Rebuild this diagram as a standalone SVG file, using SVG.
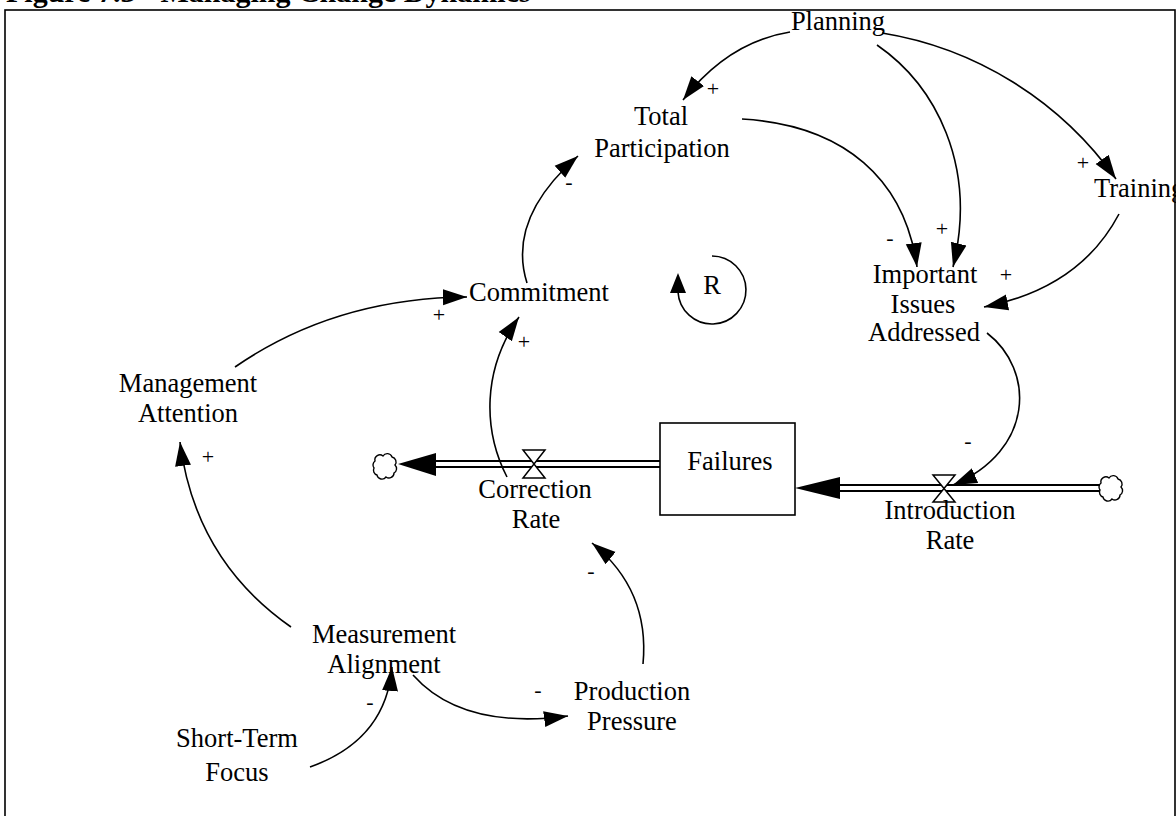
<svg xmlns="http://www.w3.org/2000/svg" width="1176" height="816" viewBox="0 0 1176 816">
  <style>
    .lbl { font-family: "Liberation Serif", "Times New Roman", serif; font-size: 26.5px; fill: #000; text-anchor: middle; }
    .pol { font-family: "Liberation Serif", "Times New Roman", serif; font-size: 22px; fill: #000; text-anchor: middle; }
    .title { font-family: "Liberation Serif", "Times New Roman", serif; font-size: 30px; font-weight: bold; fill: #000; }
    .link { fill: none; stroke: #000; stroke-width: 1.6; marker-end: url(#arrow); }
    .pipe { fill: none; stroke: #000; stroke-width: 1.8; }
    .valve { fill: #fff; stroke: #000; stroke-width: 1.5; stroke-linejoin: miter; }
    .cloud { fill: #fff; stroke: #000; stroke-width: 1.4; }
    .head { fill: #000; }
  </style>
  <defs>
    <marker id="arrow" markerUnits="userSpaceOnUse" markerWidth="26" markerHeight="18" viewBox="0 0 26 18" refX="24" refY="9" orient="auto">
      <path d="M0,1 L24,9 L0,17 Z" fill="#000"/>
    </marker>
  </defs>

  <rect width="1176" height="816" fill="#fff"/>

  <!-- heading, cut by the top edge -->
  <text class="title" x="6" y="2">Figure 7.3 - Managing Change Dynamics</text>

  <!-- frame -->
  <rect x="5" y="10" width="1170" height="830" fill="none" stroke="#000" stroke-width="1.6"/>

  <!-- causal links -->
  <g id="connectors">
    <path class="link" d="M790,32 Q728,42 683,100"/>
    <path class="link" d="M877,45 C935,85 978,165 953,267"/>
    <path class="link" d="M882,33 C975,48 1060,100 1116,179"/>
    <path class="link" d="M742,119 C845,125 905,180 917,267"/>
    <path class="link" d="M1119,214 Q1080,288 984,307"/>
    <path class="link" d="M987,333 C1035,370 1035,450 953,485"/>
    <path class="link" d="M507,477 C483,430 482,370 519,317"/>
    <path class="link" d="M235,367 Q335,298 467,297"/>
    <path class="link" d="M527,283 C516,248 522,205 578,156"/>
    <path class="link" d="M291,627 Q195,560 180,442"/>
    <path class="link" d="M310,767 Q386,740 392,667"/>
    <path class="link" d="M413,675 Q462,730 568,716"/>
    <path class="link" d="M643,664 Q650,590 592,543"/>

    <!-- polarity signs -->
    <text class="pol" x="713" y="96">+</text>
    <text class="pol" x="890" y="245">-</text>
    <text class="pol" x="942" y="236">+</text>
    <text class="pol" x="1083" y="170">+</text>
    <text class="pol" x="1006" y="282">+</text>
    <text class="pol" x="968" y="448">-</text>
    <text class="pol" x="439" y="322">+</text>
    <text class="pol" x="524" y="349">+</text>
    <text class="pol" x="569" y="189">-</text>
    <text class="pol" x="208" y="464">+</text>
    <text class="pol" x="591" y="578">-</text>
    <text class="pol" x="370" y="709">-</text>
    <text class="pol" x="538" y="697">-</text>
  </g>

  <!-- loop marker -->
  <g id="loop-R">
    <path d="M712,256 A34,34 0 1 1 678,292" fill="none" stroke="#000" stroke-width="1.6"/>
    <path class="head" d="M678,273 L686,293 L670,293 Z"/>
    <text class="lbl" x="712" y="294">R</text>
  </g>

  <!-- outflow pipe -->
  <g id="correction-flow">
    <line class="pipe" x1="433" y1="461" x2="660" y2="461"/>
    <line class="pipe" x1="433" y1="467" x2="660" y2="467"/>
    <path class="head" d="M398,464 L436,453 L436,476 Z"/>
    <path class="cloud" d="M375,461 a5,5 0 0 1 8,-5 a5,5 0 0 1 9,1 a5,5 0 0 1 3,8 a5,5 0 0 1 -1,8 a5,5 0 0 1 -8,4 a5,5 0 0 1 -9,-2 a5,5 0 0 1 -3,-7 a5,5 0 0 1 1,-7 z"/>
    <path class="valve" d="M523,450 L545,450 L523,478 L545,478 Z"/>
  </g>

  <!-- inflow pipe -->
  <g id="introduction-flow">
    <line class="pipe" x1="838" y1="485" x2="1101" y2="485"/>
    <line class="pipe" x1="838" y1="491" x2="1101" y2="491"/>
    <path class="head" d="M795,488 L840,477 L840,499 Z"/>
    <path class="cloud" d="M1101,483 a5,5 0 0 1 8,-5 a5,5 0 0 1 9,1 a5,5 0 0 1 3,8 a5,5 0 0 1 -1,8 a5,5 0 0 1 -8,4 a5,5 0 0 1 -9,-2 a5,5 0 0 1 -3,-7 a5,5 0 0 1 1,-7 z"/>
    <path class="valve" d="M933,475 L955,475 L933,502 L955,502 Z"/>
  </g>

  <g id="failures">
    <rect x="660" y="423" width="135" height="92" fill="#fff" stroke="#000" stroke-width="1.6"/>
    <text class="lbl" x="730" y="470">Failures</text>
  </g>

  <g id="planning"><text class="lbl" x="838" y="30">Planning</text></g>
  <g id="total-participation">
    <text class="lbl" x="661" y="125">Total</text>
    <text class="lbl" x="662" y="157">Participation</text>
  </g>
  <g id="training"><text class="lbl" x="1094" y="197" style="text-anchor:start">Training</text></g>
  <g id="important-issues">
    <text class="lbl" x="925" y="283">Important</text>
    <text class="lbl" x="923" y="313">Issues</text>
    <text class="lbl" x="924" y="341">Addressed</text>
  </g>
  <g id="commitment"><text class="lbl" x="539" y="301">Commitment</text></g>
  <g id="management-attention">
    <text class="lbl" x="188" y="392">Management</text>
    <text class="lbl" x="188" y="422">Attention</text>
  </g>
  <g id="correction-rate">
    <text class="lbl" x="535" y="498">Correction</text>
    <text class="lbl" x="536" y="528">Rate</text>
  </g>
  <g id="introduction-rate">
    <text class="lbl" x="950" y="519">Introduction</text>
    <text class="lbl" x="950" y="549">Rate</text>
  </g>
  <g id="measurement-alignment">
    <text class="lbl" x="384" y="643">Measurement</text>
    <text class="lbl" x="384" y="673">Alignment</text>
  </g>
  <g id="production-pressure">
    <text class="lbl" x="632" y="700">Production</text>
    <text class="lbl" x="632" y="730">Pressure</text>
  </g>
  <g id="short-term-focus">
    <text class="lbl" x="237" y="747">Short-Term</text>
    <text class="lbl" x="237" y="781">Focus</text>
  </g>
</svg>
